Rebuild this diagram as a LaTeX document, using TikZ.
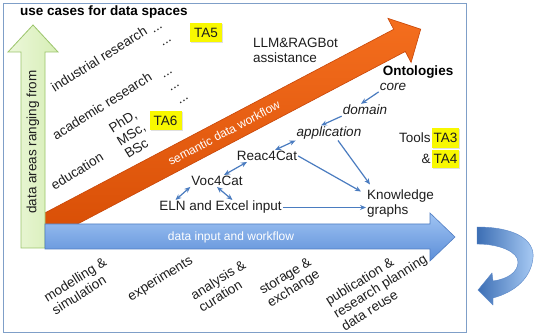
\documentclass[tikz,border=0pt]{standalone}
\usepackage{fontspec}
\setmainfont{Liberation Sans}
\usetikzlibrary{arrows.meta,calc,shadows}
\definecolor{framec}{HTML}{7F9FC8}
\definecolor{arrowc}{HTML}{4A7CC0}
\definecolor{tayel}{HTML}{F8F800}
\definecolor{txtc}{HTML}{1E1E1E}
\begin{document}
\begin{tikzpicture}[x=1pt,y=-1pt,
  txt/.style={font=\fontsize{13.5}{15}\selectfont, inner sep=1pt, text=txtc},
  itxt/.style={txt, font=\fontsize{13.5}{15}\selectfont\itshape},
  btxt/.style={txt, font=\fontsize{13.5}{15}\selectfont\bfseries, text=black},
  rtxt/.style={txt, rotate=32, align=left},
  wtxt/.style={font=\fontsize{12}{14}\selectfont, inner sep=1pt, text=white},
  tabox/.style={txt, fill=tayel, inner sep=0pt, minimum height=19pt, minimum width=32pt,
    drop shadow={opacity=0.25, shadow xshift=1pt, shadow yshift=-1pt}},
  conn/.style={draw=arrowc, line width=1.2pt, -{Stealth[length=6pt,width=5pt]}},
  dconn/.style={draw=arrowc, line width=1.2pt, {Stealth[length=6pt,width=5pt]}-{Stealth[length=6pt,width=5pt]}},
]
\useasboundingbox (0,0) rectangle (541,336);
\fill[white] (0,0) rectangle (541,336);
% frame
\draw[framec, line width=1pt] (3,4) rectangle (466,333);

% orange semantic arrow
\begin{scope}
\clip (45,0) rectangle (470,224);
\shade[top color={rgb,255:red,244;green,110;blue,30}, bottom color={rgb,255:red,214;green,76;blue,4}, draw={rgb,255:red,200;green,70;blue,8}, line width=0.6pt]
  (9.6,231.5) -- (393.7,29.3) -- (387.9,18.3) -- (420.7,29.2) -- (411.1,62.5) -- (405.3,51.5) -- (21.2,253.7) -- cycle;
\end{scope}

% green arrow
\shade[left color={rgb,255:red,236;green,247;blue,218}, right color={rgb,255:red,214;green,238;blue,181}, draw={rgb,255:red,155;green,196;blue,107}, line width=0.8pt]
  (33,25) -- (58,52) -- (45,52) -- (45,248) -- (21,248) -- (21,52) -- (8,52) -- cycle;

% blue arrow
\shade[top color={rgb,255:red,160;green,196;blue,243}, bottom color={rgb,255:red,92;green,142;blue,216}, draw={rgb,255:red,80;green,125;blue,195}, line width=0.6pt]
  (45,224) -- (430,224) -- (430,213) -- (455,237) -- (430,261) -- (430,249) -- (45,249) -- cycle;

% arrow labels
\node[txt, rotate=90] (areas) at (33,142) {data areas ranging from};
\node[wtxt] (dataflow) at (231,237) {data input and workflow};
\node[wtxt, rotate=27.8] (sem) at (224,133) {semantic data workflow};

% title and tags
\node[btxt, anchor=west] (title) at (19,12) {use cases for data spaces};
\node[tabox] (ta5) at (206,32.5) {TA5};
\node[tabox] (ta6) at (165.5,121) {TA6};

% rotated use cases
\node[rtxt] (ind) at (99,59) {industrial research};
\node[rtxt] (acad) at (102,106) {academic research};
\node[rtxt] (edu) at (77,171) {education};
\node[rtxt] (phd) at (131,134) {PhD,\\MSc,\\BSc};
\node[rtxt] (d1) at (158,30) {...};
\node[rtxt] (d2) at (167,43) {...};
\node[rtxt] (d3) at (168,75) {...};
\node[rtxt] (d4) at (175,88) {...};
\node[rtxt] (d5) at (184,101) {...};

% bottom labels
\node[rtxt] (model) at (79,286) {modelling \&\\simulation};
\node[rtxt] (exp) at (160.5,279) {experiments};
\node[rtxt] (ana) at (222,286) {analysis \&\\curation};
\node[rtxt] (stor) at (290,283) {storage \&\\exchange};
\node[rtxt] (pub) at (380,286) {publication \&\\research planning\\data reuse};

% right side texts
\node[txt, align=left, anchor=west] (llm) at (252,50.5) {LLM\&RAGBot\\assistance};
\node[btxt] (onto) at (418,72.5) {Ontologies};
\node[itxt] (core) at (393,87) {core};
\node[itxt] (domain) at (365,110) {domain};
\node[itxt] (app) at (329,133) {application};
\node[txt] (reac) at (267,156) {Reac4Cat};
\node[txt] (voc) at (217,181) {Voc4Cat};
\node[txt] (eln) at (220.5,207.5) {ELN and Excel input};
\node[txt, align=left, anchor=west] (kg) at (366,203.5) {Knowledge\\graphs};
\node[tabox, minimum width=27pt, minimum height=20pt] (ta3) at (445.5,138) {TA3};
\node[tabox, minimum width=27pt, minimum height=18pt] (ta4) at (445.5,159) {TA4};
\node[txt, anchor=east] (tools) at (ta3.west) {Tools};
\node[txt, anchor=east] (amp) at (ta4.west) {\&};

% connectors
\draw[conn] (core.south west) -- ([xshift=-4pt]domain.north);
\draw[conn] (domain.south west) -- ([xshift=-8pt]app.north);
\draw[dconn] (app.south west) -- ([xshift=8pt]reac.north);
\draw[dconn] ([xshift=-20pt]reac.south) -- ([xshift=7pt]voc.north);
\draw[dconn] (voc.south west) -- ([xshift=-45pt]eln.north);
\draw[dconn] (voc.south) -- ([xshift=12pt]eln.north);
\draw[conn] (reac.east) -- ([xshift=-5pt,yshift=-3pt]kg.north west);
\draw[conn] ([xshift=9pt]app.south) -- ([xshift=4pt,yshift=4pt]kg.north west);
\draw[conn] (eln.east) -- (eln.east -| kg.west);

% curved return arrow
\shade[left color={rgb,255:red,60;green,110;blue,180}, right color={rgb,255:red,170;green,204;blue,245}, draw={rgb,255:red,90;green,135;blue,200}, line width=0.4pt]
  (477,227) .. controls (515,227) and (535,240) .. (533,258)
  .. controls (531,278) and (515,292) .. (493,298)
  -- (493,305) -- (478,290) -- (492,273) -- (493,281)
  .. controls (508,279) and (518,272) .. (518,262)
  .. controls (518,252) and (500,244) .. (477,244) -- cycle;
\end{tikzpicture}
\end{document}
